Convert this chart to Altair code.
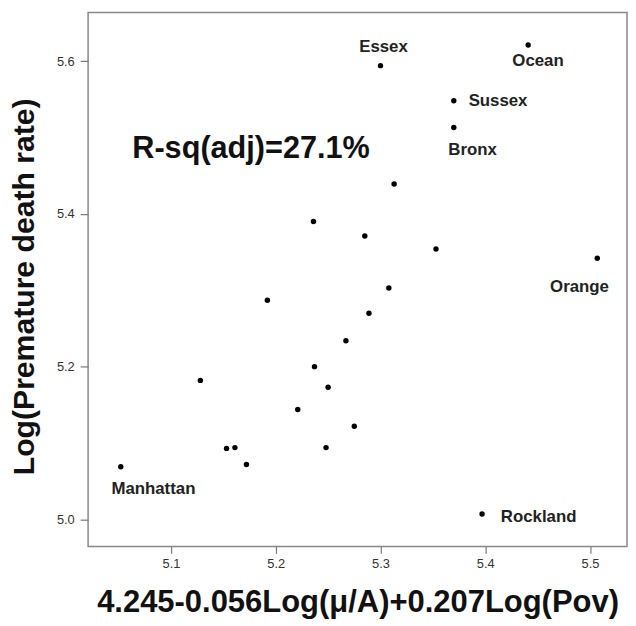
import altair as alt
import pandas as pd

# ---- data ----
x_vals = [5.300, 5.441, 5.370, 5.370, 5.313, 5.236, 5.285, 5.353, 5.507, 5.308,
          5.192, 5.289, 5.267, 5.237, 5.128, 5.250, 5.221, 5.275, 5.153, 5.161,
          5.248, 5.172, 5.052, 5.397]
y_vals = [5.594, 5.621, 5.548, 5.513, 5.439, 5.390, 5.371, 5.354, 5.342, 5.303,
          5.287, 5.270, 5.234, 5.200, 5.182, 5.173, 5.144, 5.122, 5.093, 5.094,
          5.094, 5.072, 5.069, 5.007]
counties = ["Essex", "Ocean", "Sussex", "Bronx", "", "", "", "", "Orange", "",
            "", "", "", "", "", "", "", "", "", "",
            "", "", "Manhattan", "Rockland"]
x_ticks = [5.1, 5.2, 5.3, 5.4, 5.5]
y_ticks = [5.0, 5.2, 5.4, 5.6]
x_title = "4.245-0.056Log(\u03bc/A)+0.207Log(Pov)"
y_title = "Log(Premature death rate)"
annotation = "R-sq(adj)=27.1%"

df = pd.DataFrame({"x": x_vals, "y": y_vals, "county": counties})

FONT = "Liberation Sans"
x_dom = [5.0208, 5.5354]
y_dom = [4.9647, 5.6637]

x_enc = alt.X("x:Q", scale=alt.Scale(domain=x_dom, nice=False, zero=False),
              axis=alt.Axis(values=x_ticks, format=".1f", title=x_title,
                            titleFontSize=31.3, titleFont=FONT, titleFontWeight="bold",
                            titleColor="#111", titleX=272.5, titleY=57,
                            titleBaseline="middle", titleAlign="center",
                            labelFontSize=13, labelFont=FONT, labelColor="#333",
                            labelPadding=4, tickSize=7, tickColor="#777",
                            tickWidth=1.2, domain=False, grid=False))
y_enc = alt.Y("y:Q", scale=alt.Scale(domain=y_dom, nice=False, zero=False),
              axis=alt.Axis(values=y_ticks, format=".1f", title=y_title,
                            titleFontSize=30.5, titleFont=FONT, titleFontWeight="bold",
                            titleColor="#111", titleX=-64.5, titleY=277,
                            titleAngle=-90, titleBaseline="middle", titleAlign="center",
                            labelFontSize=13, labelFont=FONT, labelColor="#333",
                            labelPadding=6, tickSize=8, tickColor="#777",
                            tickWidth=1.2, domain=False, grid=False))

base = alt.Chart(df)
points = base.mark_circle(size=30, color="black", opacity=1).encode(x=x_enc, y=y_enc)

# label placement (style, not data)
label_style = {
    "Essex": dict(dx=3, dy=-19, align="center"),
    "Ocean": dict(dx=10, dy=16, align="center"),
    "Sussex": dict(dx=15, dy=0, align="left"),
    "Bronx": dict(dx=19, dy=23, align="center"),
    "Orange": dict(dx=-18, dy=29, align="center"),
    "Manhattan": dict(dx=33, dy=23, align="center"),
    "Rockland": dict(dx=19, dy=3, align="left"),
}
layers = [points]
for name, st in label_style.items():
    layers.append(
        base.transform_filter(alt.datum.county == name)
        .mark_text(font=FONT, fontSize=17, fontWeight="bold", color="#222",
                   baseline="middle", **st)
        .encode(x="x:Q", y="y:Q", text="county:N")
    )

ann_df = pd.DataFrame({"x": [5.063], "y": [5.485], "t": [annotation]})
ann = alt.Chart(ann_df).mark_text(font=FONT, fontSize=31, fontWeight="bold",
                                  color="#111", align="left", baseline="middle").encode(
    x="x:Q", y="y:Q", text="t:N")
layers.append(ann)

chart = alt.layer(*layers).properties(
    width=545, height=540,
    background="white",
    autosize=alt.AutoSizeParams(type="none"),
    padding={"left": 81, "top": 1, "right": 1, "bottom": 74},
).configure_view(stroke="#888", strokeWidth=1.5)

chart.save("out.html", embed_options={"renderer": "svg", "actions": False})
